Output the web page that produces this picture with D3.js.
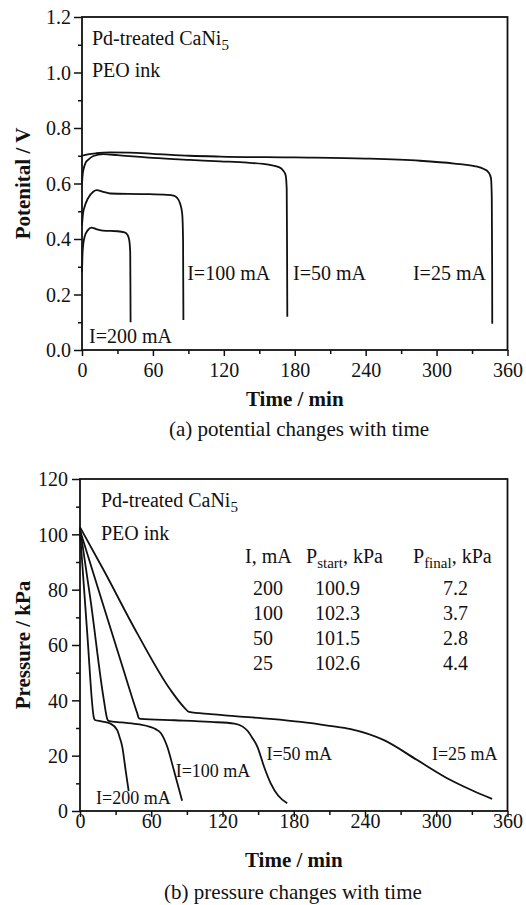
<!DOCTYPE html>
<html>
<head>
<meta charset="utf-8">
<script src="https://cdn.jsdelivr.net/npm/d3@7"></script>
<style>
  html, body { margin: 0; padding: 0; background: #fff; }
  svg { display: block; }
  svg text { font-family: "Liberation Serif", "Times New Roman", serif !important; fill: #111; }
</style>
</head>
<body>
<script>
// ---------------- DATA ----------------
// (a) potential vs time : [time (min), potential (V)]
const pot200 = [[0,0.28],[0.6,0.36],[2.2,0.408],[5,0.432],[7.9,0.441],[12,0.436],[17.8,0.430],[30,0.428],[36,0.424],[38.5,0.415],[40,0.395],[40.8,0.35],[41,0.2],[41.1,0.10]];
const pot100 = [[0,0.45],[0.8,0.49],[2.2,0.516],[5,0.546],[9.5,0.570],[12.3,0.576],[18,0.570],[24,0.564],[52,0.562],[72,0.559],[77.5,0.556],[80.5,0.548],[83,0.528],[84.8,0.49],[85.5,0.40],[85.8,0.108]];
const pot50  = [[0,0.60],[0.4,0.625],[1.5,0.655],[3,0.674],[5.4,0.686],[9.6,0.699],[18,0.706],[30,0.702],[60,0.692],[91,0.685],[117,0.680],[140,0.675],[159,0.667],[166,0.66],[170,0.648],[172.3,0.63],[173.2,0.58],[173.5,0.35],[173.7,0.12]];
const pot25  = [[0,0.700],[5,0.705],[12,0.709],[24,0.712],[40,0.711],[60,0.707],[91,0.700],[117,0.697],[180,0.694],[240,0.690],[286,0.682],[315,0.672],[332,0.663],[340,0.652],[344,0.640],[346,0.62],[346.7,0.55],[347,0.30],[347.1,0.095]];

// (b) pressure vs time : [time (min), pressure (kPa)]
const pr200 = [[0,100.9],[6.1,64.2],[11.8,33.5],[12.5,32.9],[18,32.4],[25.7,31.6],[31.3,29.2],[33.5,26.5],[35.6,23.2],[38.4,14.8],[41,7.2]];
const pr100 = [[0,102.3],[8.9,76.2],[20.1,40.1],[23,33.2],[24,32.6],[35,32.0],[50,31.3],[59,30.4],[64,29.5],[68,28.2],[73.5,23.2],[79,14.8],[86,3.7]];
const pr50  = [[0,101.5],[20,73.8],[34.1,54.5],[48.2,35.3],[49.6,33.5],[51,33.3],[80,32.8],[110,32.2],[130,31.6],[137,30.5],[141,29.0],[145,26.5],[149.4,23.2],[155,16],[160.6,10],[167,5.5],[174.5,2.8]];
const pr25  = [[0,102.6],[20,87],[48.2,64.2],[76.3,43.7],[88,37.3],[91.8,35.8],[110,35.0],[130,34.3],[160,33.3],[186,32.2],[210,30.8],[228,29.6],[256,25.6],[284,18.4],[312,11.2],[330,7.5],[347,4.4]];

// table in panel (b)
const tableCurrent = ["200","100","50","25"];
const tableStart   = ["100.9","102.3","101.5","102.6"];
const tableFinal   = ["7.2","3.7","2.8","4.4"];

// ticks
const timeTicks = [0,60,120,180,240,300,360];
const timeMinor = [30,90,150,210,270,330];
const potTicks  = [0,0.2,0.4,0.6,0.8,1.0,1.2];
const potMinor  = [0.1,0.3,0.5,0.7,0.9,1.1];
const prTicks   = [0,20,40,60,80,100,120];
const prMinor   = [10,30,50,70,90,110];

// ---------------- DRAW ----------------
const W = 526, H = 905;
const SERIF = '"Liberation Serif", "Times New Roman", serif';
const svg = d3.select("body").append("svg").attr("width", W).attr("height", H)
  .style("font-family", SERIF);

function panel(opts) {
  const x = d3.scaleLinear().domain([0,360]).range([opts.left, opts.right]);
  const y = d3.scaleLinear().domain(opts.yDomain).range([opts.bottom, opts.top]);
  const g = svg.append("g");

  // minor ticks
  g.append("g").attr("transform", `translate(0,${opts.bottom})`)
    .call(d3.axisBottom(x).tickValues(timeMinor).tickSize(4).tickFormat(""))
    .call(a => a.select(".domain").remove());
  g.append("g").attr("transform", `translate(${opts.left},0)`)
    .call(d3.axisLeft(y).tickValues(opts.yMinor).tickSize(4).tickFormat(""))
    .call(a => a.select(".domain").remove());

  // major ticks
  const xa = g.append("g").attr("transform", `translate(0,${opts.bottom})`)
    .call(d3.axisBottom(x).tickValues(timeTicks).tickSize(6).tickFormat(d3.format("d")))
    .call(a => a.select(".domain").remove());
  xa.selectAll("text").attr("y", opts.xLabelBase - opts.bottom).attr("dy", null);
  const ya = g.append("g").attr("transform", `translate(${opts.left},0)`)
    .call(d3.axisLeft(y).tickValues(opts.yTicks).tickSize(8).tickPadding(opts.yPad).tickFormat(opts.yFormat))
    .call(a => a.select(".domain").remove());
  ya.selectAll("text").attr("dy", "0.34em");
  g.selectAll("g").attr("font-family", null).attr("font-size", null);
  g.selectAll(".tick text").style("font-size", "20px").style("font-family", SERIF).attr("fill", "#111");
  g.selectAll(".tick line").attr("stroke", "#111").attr("stroke-width", 1.5);

  // frame
  g.append("rect").attr("x", opts.left).attr("y", opts.top)
    .attr("width", opts.right - opts.left).attr("height", opts.bottom - opts.top)
    .attr("fill", "none").attr("stroke", "#111").attr("stroke-width", 1.8);

  // curves
  const line = d3.line().x(d => x(d[0])).y(d => y(d[1])).curve(d3.curveMonotoneX);
  opts.series.forEach(s => {
    g.append("path").attr("d", line(s)).attr("fill", "none")
      .attr("stroke", "#111").attr("stroke-width", 1.8).attr("stroke-linejoin", "round");
  });

  // axis titles
  g.append("text").attr("x", (opts.left + opts.right) / 2).attr("y", opts.xTitleBase)
    .attr("text-anchor", "middle").style("font-size", "21px").style("font-weight", "bold")
    .text("Time / min");
  g.append("text").attr("transform", `translate(30,${(opts.top + opts.bottom) / 2}) rotate(-90)`)
    .attr("text-anchor", "middle").style("font-size", "21px").style("font-weight", "bold")
    .text(opts.yTitle);
  // caption
  g.append("text").attr("x", opts.captionX).attr("y", opts.captionBase)
    .attr("text-anchor", "middle").style("font-size", "21px").text(opts.caption);

  // sample annotation
  const t1 = g.append("text").attr("x", opts.annX).attr("y", opts.annY1).style("font-size", "20px");
  t1.append("tspan").text("Pd-treated CaNi");
  t1.append("tspan").attr("dy", 5).style("font-size", "15px").text("5");
  g.append("text").attr("x", opts.annX).attr("y", opts.annY2).style("font-size", "20px").text("PEO ink");

  // curve labels
  opts.labels.forEach(l => {
    g.append("text").attr("x", x(l[1])).attr("y", y(l[2])).style("font-size", opts.labelSize).text(l[0]);
  });
  return {g, x, y};
}

// (a)
panel({
  left: 82, right: 507.5, top: 17, bottom: 350,
  yDomain: [0, 1.2], yTicks: potTicks, yMinor: potMinor, yFormat: d3.format(".1f"), yPad: 3,
  xLabelBase: 377, xTitleBase: 406, yTitle: "Potenital / V",
  caption: "(a) potential changes with time", captionX: 299, captionBase: 436,
  annX: 92, annY1: 45, annY2: 77,
  series: [pot200, pot100, pot50, pot25],
  labelSize: "20px",
  labels: [["I=200 mA", 6, 0.025], ["I=100 mA", 89, 0.252], ["I=50 mA", 178.5, 0.252], ["I=25 mA", 280, 0.252]]
});

// (b)
const pb = panel({
  left: 80, right: 507.5, top: 479, bottom: 811,
  yDomain: [0, 120], yTicks: prTicks, yMinor: prMinor, yFormat: d3.format("d"), yPad: 4,
  xLabelBase: 828, xTitleBase: 867, yTitle: "Pressure / kPa",
  caption: "(b) pressure changes with time", captionX: 293, captionBase: 899,
  annX: 101, annY1: 507, annY2: 540,
  series: [pr200, pr100, pr50, pr25],
  labelSize: "18px",
  labels: [["I=200 mA", 13.5, 2.5], ["I=100 mA", 80.6, 12.4], ["I=50 mA", 157, 18.4], ["I=25 mA", 296.4, 18.4]]
});

// table
const tg = pb.g.append("g").style("font-size", "20px");
tg.append("text").attr("x", 245).attr("y", 563).text("I, mA");
const h2 = tg.append("text").attr("x", 306).attr("y", 563);
h2.append("tspan").text("P");
h2.append("tspan").attr("dy", 5).style("font-size", "15px").text("start");
h2.append("tspan").attr("dy", -5).text(", kPa");
const h3 = tg.append("text").attr("x", 413).attr("y", 563);
h3.append("tspan").text("P");
h3.append("tspan").attr("dy", 5).style("font-size", "15px").text("final");
h3.append("tspan").attr("dy", -5).text(", kPa");
tableCurrent.forEach((c, i) => {
  const yy = 595 + i * 25;
  tg.append("text").attr("x", 253).attr("y", yy).text(c);
  tg.append("text").attr("x", 315).attr("y", yy).text(tableStart[i]);
  tg.append("text").attr("x", 443).attr("y", yy).text(tableFinal[i]);
});
</script>
</body>
</html>
